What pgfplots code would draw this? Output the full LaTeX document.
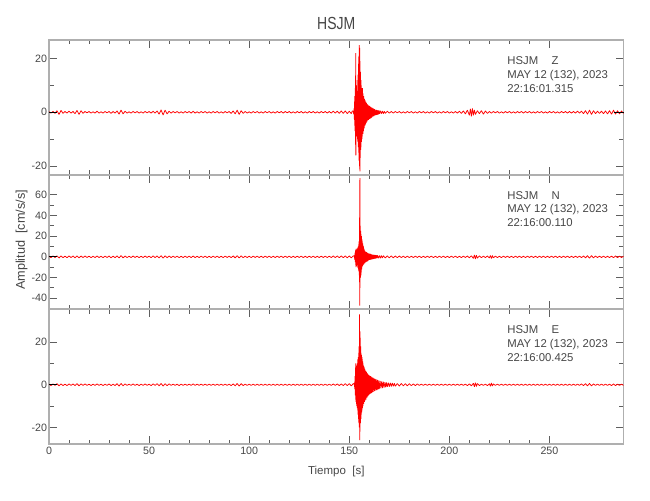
\documentclass[border=0pt]{standalone}
\usepackage{pgfplots}
\pgfplotsset{compat=1.18}
\usepackage{fontspec}
\setmainfont{Liberation Sans}
\newfontfamily\narrowfont{Liberation Sans}[FakeStretch=0.8]
\definecolor{framegray}{RGB}{175,175,175}
\definecolor{tickgray}{RGB}{95,95,95}
\definecolor{txtgray}{RGB}{70,70,70}
\pgfplotsset{
  panel/.style={
    scale only axis, width=344.7pt, height=80.8pt,
    xmin=0, xmax=287,
    axis line style={framegray, line width=1.1pt},
    tick style={tickgray, line width=0.6pt},
    major tick length=4.8pt, minor tick length=2.7pt,
    tick pos=both, tick align=inside,
    xtick={0,50,...,250}, minor x tick num=4,
    minor y tick num=1,
    /pgf/number format/assume math mode=true,
    tick label style={font=\fontsize{6.4}{7}\selectfont, text=txtgray},
    yticklabel style={inner sep=1pt},
    xticklabel style={inner sep=1.5pt},
    clip=false,
    anchor=south west,
  },
  trace/.style={red, line width=0.45pt, line join=bevel},
}
\begin{document}
\begin{tikzpicture}
\useasboundingbox (0,0) rectangle (390pt,300pt);
% ---------------- Panel Z ----------------
\begin{axis}[panel, at={(29.4pt,195.2pt)}, ymin=-23.2, ymax=26.9,
  ytick={-20,0,20}, xticklabels={}]
\addplot[trace] coordinates {
(0,0.2)(1,-0.3)(2,0.3)(3,-0.4)(4,0.6)(5,-0.8)(6,0.7)(7,-0.4)(8,0.3)(9,-0.3)
(10,0.4)(11,-0.3)(12,0.3)(13,-0.5)(14,0.7)(15,-0.8)(16,0.6)(17,-0.4)(18,0.3)(19,-0.2)
(20,0.3)(21,-0.3)(22,0.2)(23,-0.3)(24,0.4)(25,-0.3)(26,0.2)(27,-0.3)(28,0.3)(29,-0.2)
(30,0.3)(31,-0.4)(32,0.3)(33,-0.3)(34,0.5)(35,-0.7)(36,0.8)(37,-0.6)(38,0.4)(39,-0.3)
(40,0.2)(41,-0.3)(42,0.3)(43,-0.2)(44,0.3)(45,-0.3)(46,0.2)(47,-0.3)(48,0.3)(49,-0.2)
(50,0.3)(51,-0.3)(52,0.4)(53,-0.3)(54,0.5)(55,-0.7)(56,0.9)(57,-1.0)(58,0.8)(59,-0.6)
(60,0.4)(61,-0.3)(62,0.3)(63,-0.2)(64,0.3)(65,-0.3)(66,0.2)(67,-0.3)(68,0.3)(69,-0.2)
(70,0.3)(71,-0.3)(72,0.4)(73,-0.3)(74,0.2)(75,-0.3)(76,0.3)(77,-0.2)(78,0.3)(79,-0.3)
(80,0.2)(81,-0.3)(82,0.3)(83,-0.2)(84,0.3)(85,-0.3)(86,0.2)(87,-0.3)(88,0.3)(89,-0.2)
(90,0.3)(91,-0.4)(92,0.5)(93,-0.6)(94,0.8)(95,-0.8)(96,0.6)(97,-0.4)(98,0.3)(99,-0.3)
(100,0.2)(101,-0.3)(102,0.3)(103,-0.2)(104,0.3)(105,-0.3)(106,0.2)(107,-0.3)(108,0.3)(109,-0.2)
(110,0.3)(111,-0.3)(112,0.2)(113,-0.3)(114,0.3)(115,-0.2)(116,0.3)(117,-0.3)(118,0.3)(119,-0.2)
(120,0.3)(121,-0.3)(122,0.2)(123,-0.3)(124,0.3)(125,-0.2)(126,0.3)(127,-0.3)(128,0.2)(129,-0.3)
(130,0.3)(131,-0.2)(132,0.3)(133,-0.3)(134,0.2)(135,-0.3)(136,0.3)(137,-0.2)(138,0.3)(139,-0.3)
(140,0.3)(141,-0.3)(142,0.4)(143,-0.3)(144,0.4)(145,-0.4)(146,0.5)(147,-0.4)(148,0.5)(149,-0.5)
(150,0.4)(151,-0.5)(151.5,0.5)
(152.0,0.4)(152.1,-0.5)(152.2,0.6)(152.3,-0.8)(152.4,1.5)(152.5,-2.5)(152.6,4)(152.7,-5)(152.8,6)(152.9,-7)
(153.0,9)(153.1,-12)(153.2,22)(153.3,-16)(153.4,12)(153.5,-9)(153.6,10)(153.7,-8)(153.8,7)(153.9,-9)
(154.0,8)(154.1,-10)(154.2,12)(154.3,-11)(154.4,14)(154.5,-13)(154.6,18)(154.7,-15)(154.8,21)(154.9,-18)
(155.0,25)(155.1,-20)(155.2,24)(155.3,-22)(155.4,19)(155.5,-17)(155.6,15)(155.7,-14)(155.8,12)(155.9,-13)
(156.0,10)(156.1,-11)(156.2,9)(156.3,-10)(156.4,8)(156.5,-9)(156.6,9)(156.7,-8)(156.8,7)(156.9,-8)
(157.0,6)(157.1,-7)(157.2,6)(157.3,-6)(157.4,5)(157.5,-6)(157.6,5)(157.7,-5)(157.8,4.5)(157.9,-5)
(158.0,4)(158.1,-4.5)(158.2,4)(158.3,-4)(158.4,3.5)(158.5,-4)(158.6,3.5)(158.7,-3.5)(158.8,3)(158.9,-3.5)
(159.0,3)(159.2,-3)(159.4,2.8)(159.6,-2.8)(159.8,2.5)(160.0,-2.5)(160.2,2.3)(160.4,-2.4)(160.6,2.0)(160.8,-2.2)
(161.0,1.8)(161.2,-2.0)(161.4,1.7)(161.6,-1.6)(161.8,1.5)(162.0,-1.5)(162.2,1.3)(162.4,-1.4)(162.6,1.2)(162.8,-1.1)
(163.0,1.0)(163.3,-1.0)(163.6,0.9)(163.9,-0.9)(164.2,0.8)(164.5,-0.8)(164.8,0.7)(165.1,-0.6)(165.5,0.6)(166,-0.5)
(166.5,0.5)(167,-0.5)(167.5,0.4)(168,-0.4)(169,0.4)(170,-0.3)(171,0.3)(172,-0.3)(173,0.3)(174,-0.2)
(175,0.3)(176,-0.3)(177,0.2)(178,-0.3)(179,0.3)(180,-0.2)(181,0.3)(182,-0.3)(183,0.2)(184,-0.3)
(185,0.3)(186,-0.2)(187,0.3)(188,-0.3)(189,0.2)(190,-0.3)(191,0.3)(192,-0.2)(193,0.3)(194,-0.3)
(195,0.2)(196,-0.3)(197,0.3)(198,-0.2)(199,0.3)(200,-0.3)(201,0.2)(202,-0.3)(203,0.3)(204,-0.3)
(205,0.4)(206,-0.4)(207,0.5)(208,-0.6)(209,0.8)(210,-1.1)(210.5,1.3)(211,-1.5)(211.5,1.4)(212,-1.1)
(212.5,0.9)(213,-0.8)(214,0.6)(215,-0.5)(216,0.6)(217,-0.7)(218,0.5)(219,-0.4)(220,0.3)(221,-0.3)
(222,0.3)(223,-0.2)(224,0.3)(225,-0.3)(226,0.2)(227,-0.3)(228,0.3)(229,-0.2)(230,0.3)(231,-0.3)
(232,0.2)(233,-0.3)(234,0.3)(235,-0.2)(236,0.3)(237,-0.3)(238,0.3)(239,-0.2)(240,0.3)(241,-0.3)
(242,0.2)(243,-0.3)(244,0.3)(245,-0.2)(246,0.3)(247,-0.3)(248,0.2)(249,-0.3)(250,0.3)(251,-0.2)
(252,0.3)(253,-0.3)(254,0.2)(255,-0.3)(256,0.3)(257,-0.2)(258,0.3)(259,-0.3)(260,0.3)(261,-0.3)
(262,0.3)(263,-0.3)(264,0.4)(265,-0.3)(266,0.4)(267,-0.5)(268,0.6)(269,-0.7)(270,0.8)(271,-0.8)
(272,0.6)(273,-0.5)(274,0.4)(275,-0.4)(276,0.4)(277,-0.5)(278,0.5)(279,-0.6)(280,0.6)(281,-0.7)
(282,0.8)(283,-0.7)(284,0.6)(285,-0.6)(286,0.5)(287,-0.4)
};
\addplot[black, line width=0.5pt] coordinates {(0,0)(4,0)};
\addplot[black, line width=0.5pt] coordinates {(282,0)(287,0)};
\end{axis}
% ---------------- Panel N ----------------
\begin{axis}[panel, at={(29.4pt,114.4pt)}, ymin=-50.7, ymax=79.4,
  ytick={-40,-20,...,60}, xticklabels={}]
\addplot[trace] coordinates {
(0,0.6)(1,-0.8)(2,0.9)(3,-0.7)(4,1.0)(5,-1.1)(6,0.9)(7,-0.8)(8,0.7)(9,-0.8)
(10,0.9)(11,-0.7)(12,0.8)(13,-0.9)(14,1.0)(15,-1.0)(16,0.8)(17,-0.7)(18,0.8)(19,-0.6)
(20,0.7)(21,-0.8)(22,0.6)(23,-0.7)(24,0.8)(25,-0.7)(26,0.6)(27,-0.8)(28,0.7)(29,-0.6)
(30,0.8)(31,-0.9)(32,0.7)(33,-0.8)(34,1.0)(35,-1.1)(36,1.2)(37,-1.0)(38,0.8)(39,-0.7)
(40,0.6)(41,-0.7)(42,0.8)(43,-0.6)(44,0.7)(45,-0.8)(46,0.6)(47,-0.7)(48,0.8)(49,-0.6)
(50,0.7)(51,-0.8)(52,0.9)(53,-0.7)(54,0.9)(55,-1.0)(56,1.1)(57,-1.2)(58,1.0)(59,-0.9)
(60,0.8)(61,-0.7)(62,0.7)(63,-0.6)(64,0.7)(65,-0.8)(66,0.6)(67,-0.7)(68,0.7)(69,-0.6)
(70,0.7)(71,-0.7)(72,0.8)(73,-0.7)(74,0.6)(75,-0.7)(76,0.7)(77,-0.6)(78,0.7)(79,-0.7)
(80,0.6)(81,-0.7)(82,0.7)(83,-0.6)(84,0.7)(85,-0.7)(86,0.6)(87,-0.7)(88,0.7)(89,-0.6)
(90,0.7)(91,-0.8)(92,0.9)(93,-1.0)(94,1.1)(95,-1.1)(96,1.0)(97,-0.8)(98,0.7)(99,-0.7)
(100,0.6)(101,-0.7)(102,0.7)(103,-0.6)(104,0.7)(105,-0.7)(106,0.6)(107,-0.7)(108,0.7)(109,-0.6)
(110,0.7)(111,-0.7)(112,0.6)(113,-0.7)(114,0.7)(115,-0.6)(116,0.7)(117,-0.7)(118,0.7)(119,-0.6)
(120,0.7)(121,-0.7)(122,0.6)(123,-0.7)(124,0.7)(125,-0.6)(126,0.7)(127,-0.7)(128,0.6)(129,-0.7)
(130,0.7)(131,-0.6)(132,0.7)(133,-0.7)(134,0.6)(135,-0.7)(136,0.7)(137,-0.6)(138,0.7)(139,-0.7)
(140,0.7)(141,-0.7)(142,0.8)(143,-0.7)(144,0.8)(145,-0.8)(146,0.9)(147,-0.8)(148,0.9)(149,-0.9)
(150,0.8)(151,-0.9)(152,0.9)(152.5,1)(152.6,-1.5)(152.7,2)(152.8,-3)(152.9,4)
(153.0,-5)(153.1,6)(153.2,-8)(153.3,7)(153.4,-10)(153.5,8)(153.6,-9)(153.7,7)(153.8,-8)(153.9,6)
(154.0,-7)(154.1,8)(154.2,-10)(154.3,9)(154.4,-11)(154.5,10)(154.6,-12)(154.7,12)(154.8,-14)(154.9,15)
(155.0,-18)(155.1,38)(155.2,-47)(155.3,76)(155.4,-30)(155.5,30)(155.6,-20)(155.7,25)(155.8,-18)(155.9,22)
(156.0,-15)(156.1,20)(156.2,-12)(156.3,17)(156.4,-10)(156.5,15)(156.6,-9)(156.7,13)(156.8,-8)(156.9,11)
(157.0,-8)(157.1,10)(157.2,-7)(157.3,8)(157.4,-7)(157.5,7)(157.6,-6)(157.7,6)(157.8,-6)(157.9,5)
(158.0,-5)(158.2,5)(158.4,-5)(158.6,4.5)(158.8,-4.5)(159.0,4)(159.2,-4)(159.4,3.5)(159.6,-3.5)(159.8,3)
(160.0,-3)(160.2,3)(160.4,-3)(160.6,2.8)(160.8,-2.6)(161.0,2.5)(161.3,-2.4)(161.6,2.2)(161.9,-2.1)(162.2,2.0)
(162.5,-1.9)(162.8,1.8)(163.1,-1.7)(163.4,1.6)(163.7,-1.5)(164.0,1.5)(164.5,-1.4)(165,1.3)(165.5,-1.3)(166,1.2)
(166.5,-1.2)(167,1.1)(168,-1.1)(169,1.0)(170,-1.0)(171,0.9)(172,-0.9)(173,0.8)(174,-0.8)(175,0.8)
(176,-0.7)(177,0.7)(178,-0.8)(179,0.7)(180,-0.7)(181,0.6)(182,-0.7)(183,0.7)(184,-0.6)(185,0.7)
(186,-0.7)(187,0.6)(188,-0.7)(189,0.7)(190,-0.6)(191,0.7)(192,-0.7)(193,0.6)(194,-0.7)(195,0.7)
(196,-0.6)(197,0.7)(198,-0.7)(199,0.6)(200,-0.7)(201,0.7)(202,-0.6)(203,0.7)(204,-0.7)(205,0.6)
(206,-0.7)(207,0.7)(208,-0.6)(209,0.8)(210,-0.9)(211,1.0)(212,-1.5)(212.5,1.8)(213,-2.0)(213.5,1.6)
(214,-1.2)(215,0.9)(216,-0.8)(217,0.7)(218,-0.7)(219,0.8)(220,-1.0)(220.5,1.4)(221,-1.5)(221.5,1.2)
(222,-0.9)(223,0.7)(224,-0.7)(225,0.6)(226,-0.7)(227,0.7)(228,-0.6)(229,0.7)(230,-0.7)(231,0.6)
(232,-0.7)(233,0.7)(234,-0.6)(235,0.7)(236,-0.7)(237,0.6)(238,-0.7)(239,0.7)(240,-0.6)(241,0.7)
(242,-0.7)(243,0.6)(244,-0.7)(245,0.7)(246,-0.6)(247,0.7)(248,-0.7)(249,0.6)(250,-0.7)(251,0.7)
(252,-0.6)(253,0.7)(254,-0.7)(255,0.6)(256,-0.7)(257,0.7)(258,-0.6)(259,0.7)(260,-0.7)(261,0.6)
(262,-0.7)(263,0.7)(264,-0.6)(265,0.7)(266,-0.7)(267,0.8)(268,-0.9)(269,1.1)(270,-1.3)(271,1.2)
(272,-1.0)(273,0.8)(274,-0.7)(275,0.7)(276,-0.6)(277,0.7)(278,-0.7)(279,0.6)(280,-0.7)(281,0.7)
(282,-0.8)(283,0.9)(284,-0.8)(285,0.7)(286,-0.7)(287,0.6)
};
\addplot[black, line width=0.5pt] coordinates {(0,0)(4,0)};
\end{axis}
% ---------------- Panel E ----------------
\begin{axis}[panel, at={(29.4pt,33.6pt)}, ymin=-27.8, ymax=35.4,
  ytick={-20,0,20}]
\addplot[trace] coordinates {
(0,0.3)(1,-0.4)(2,0.4)(3,-0.3)(4,0.5)(5,-0.5)(6,0.4)(7,-0.4)(8,0.3)(9,-0.4)
(10,0.4)(11,-0.3)(12,0.4)(13,-0.4)(14,0.5)(15,-0.5)(16,0.4)(17,-0.3)(18,0.4)(19,-0.3)
(20,0.3)(21,-0.4)(22,0.3)(23,-0.3)(24,0.4)(25,-0.3)(26,0.3)(27,-0.4)(28,0.3)(29,-0.3)
(30,0.4)(31,-0.4)(32,0.3)(33,-0.4)(34,0.5)(35,-0.6)(36,0.6)(37,-0.5)(38,0.4)(39,-0.3)
(40,0.3)(41,-0.3)(42,0.4)(43,-0.3)(44,0.3)(45,-0.4)(46,0.3)(47,-0.3)(48,0.4)(49,-0.3)
(50,0.3)(51,-0.4)(52,0.4)(53,-0.3)(54,0.5)(55,-0.5)(56,0.6)(57,-0.6)(58,0.5)(59,-0.4)
(60,0.4)(61,-0.3)(62,0.3)(63,-0.3)(64,0.3)(65,-0.4)(66,0.3)(67,-0.3)(68,0.3)(69,-0.3)
(70,0.3)(71,-0.3)(72,0.4)(73,-0.3)(74,0.3)(75,-0.3)(76,0.3)(77,-0.3)(78,0.3)(79,-0.3)
(80,0.3)(81,-0.3)(82,0.3)(83,-0.3)(84,0.3)(85,-0.3)(86,0.3)(87,-0.3)(88,0.3)(89,-0.3)
(90,0.3)(91,-0.4)(92,0.4)(93,-0.5)(94,0.6)(95,-0.6)(96,0.5)(97,-0.4)(98,0.3)(99,-0.3)
(100,0.3)(101,-0.3)(102,0.3)(103,-0.3)(104,0.3)(105,-0.3)(106,0.3)(107,-0.3)(108,0.3)(109,-0.3)
(110,0.3)(111,-0.3)(112,0.3)(113,-0.3)(114,0.3)(115,-0.3)(116,0.3)(117,-0.3)(118,0.3)(119,-0.3)
(120,0.3)(121,-0.3)(122,0.3)(123,-0.3)(124,0.3)(125,-0.3)(126,0.3)(127,-0.3)(128,0.3)(129,-0.3)
(130,0.3)(131,-0.3)(132,0.3)(133,-0.3)(134,0.3)(135,-0.3)(136,0.3)(137,-0.3)(138,0.3)(139,-0.3)
(140,0.3)(141,-0.3)(142,0.4)(143,-0.3)(144,0.4)(145,-0.4)(146,0.4)(147,-0.4)(148,0.5)(149,-0.4)
(150,0.5)(151,-0.5)(152,0.5)(152.5,0.6)(152.6,-1)(152.7,1.5)(152.8,-2)(152.9,4)
(153.0,-5)(153.1,8)(153.2,-7)(153.3,10)(153.4,-8)(153.5,7)(153.6,-9)(153.7,8)(153.8,-10)(153.9,9)
(154.0,-11)(154.1,10)(154.2,-12)(154.3,12)(154.4,-14)(154.5,13)(154.6,-16)(154.7,15)(154.8,-18)(154.9,18)
(155.0,-20)(155.1,33)(155.2,-26)(155.3,25)(155.4,-22)(155.5,22)(155.6,-18)(155.7,18)(155.8,-16)(155.9,15)
(156.0,-14)(156.1,14)(156.2,-13)(156.3,13)(156.4,-12)(156.5,12)(156.6,-11)(156.7,11)(156.8,-10)(156.9,10)
(157.0,-9)(157.1,9)(157.2,-9)(157.3,8.5)(157.4,-8)(157.5,8)(157.6,-8)(157.7,7.5)(157.8,-7.5)(157.9,7)
(158.0,-7)(158.2,6.5)(158.4,-7)(158.6,6)(158.8,-6)(159.0,5.5)(159.2,-5.5)(159.4,5)(159.6,-5)(159.8,4.5)
(160.0,-4.6)(160.2,4.2)(160.4,-4.3)(160.6,4)(160.8,-4)(161.0,3.8)(161.2,-3.8)(161.4,3.5)(161.6,-3.5)(161.8,3.3)
(162.0,-3.3)(162.3,3.0)(162.6,-3.0)(162.9,2.8)(163.2,-2.7)(163.5,2.5)(163.8,-2.5)(164.1,2.3)(164.4,-2.2)(164.7,2.0)
(165.0,-2.0)(165.4,1.8)(165.8,-1.7)(166.2,1.6)(166.6,-1.5)(167.0,1.4)(167.4,-1.3)(167.8,1.2)(168.2,-1.2)(168.6,1.1)
(169.0,-1.0)(169.5,1.0)(170,-0.9)(170.5,0.9)(171,-0.8)(171.5,0.8)(172,-0.7)(172.5,0.7)(173,-0.7)(174,0.6)
(175,-0.6)(176,0.6)(177,-0.5)(178,0.5)(179,-0.5)(180,0.5)(181,-0.4)(182,0.4)(183,-0.4)(184,0.4)
(185,-0.3)(186,0.3)(187,-0.3)(188,0.3)(189,-0.3)(190,0.3)(191,-0.3)(192,0.3)(193,-0.3)(194,0.3)
(195,-0.3)(196,0.3)(197,-0.3)(198,0.3)(199,-0.3)(200,0.3)(201,-0.3)(202,0.3)(203,-0.3)(204,0.3)
(205,-0.3)(206,0.3)(207,-0.3)(208,0.3)(209,-0.4)(210,0.4)(211,-0.5)(212,0.7)(212.5,-0.9)(213,1.0)
(213.5,-0.8)(214,0.6)(215,-0.4)(216,0.3)(217,-0.3)(218,0.3)(219,-0.4)(220,0.5)(220.5,-0.7)(221,0.8)
(221.5,-0.6)(222,0.4)(223,-0.3)(224,0.3)(225,-0.3)(226,0.3)(227,-0.3)(228,0.3)(229,-0.3)(230,0.3)
(231,-0.3)(232,0.3)(233,-0.3)(234,0.3)(235,-0.3)(236,0.3)(237,-0.3)(238,0.3)(239,-0.3)(240,0.3)
(241,-0.3)(242,0.3)(243,-0.3)(244,0.3)(245,-0.3)(246,0.3)(247,-0.3)(248,0.3)(249,-0.3)(250,0.3)
(251,-0.3)(252,0.3)(253,-0.3)(254,0.3)(255,-0.3)(256,0.3)(257,-0.3)(258,0.3)(259,-0.3)(260,0.3)
(261,-0.3)(262,0.3)(263,-0.3)(264,0.3)(265,-0.3)(266,0.4)(267,-0.4)(268,0.5)(269,-0.5)(270,0.6)
(271,-0.5)(272,0.4)(273,-0.3)(274,0.3)(275,-0.3)(276,0.3)(277,-0.3)(278,0.3)(279,-0.3)(280,0.3)
(281,-0.4)(282,0.4)(283,-0.4)(284,0.3)(285,-0.3)(286,0.3)(287,-0.3)
};
\addplot[black, line width=0.5pt] coordinates {(0,0)(4,0)};
\end{axis}
% ---------------- Texts ----------------
\node[font=\narrowfont\fontsize{10.5}{12}\selectfont, text=txtgray] at (201.75pt,286pt) {HSJM};
\node[font=\fontsize{6.9}{8}\selectfont, text=txtgray] at (201.75pt,17pt) {Tiempo\ \ [s]};
\node[font=\fontsize{7.6}{9}\selectfont, text=txtgray, rotate=90] at (13pt,156pt) {Amplitud\ \ [cm/s/s]};
\foreach \yy/\cc/\tt in {261/Z/22:16:01.315, 180.4/N/22:16:00.110, 99.8/E/22:16:00.425}{
  \node[font=\fontsize{6.8}{8}\selectfont, text=txtgray, anchor=base west, inner sep=0pt] at (304.2pt,\yy pt) {HSJM\hspace{8pt}\cc};
  \node[font=\fontsize{6.8}{8}\selectfont, text=txtgray, anchor=base west, inner sep=0pt] at (304.2pt,\yy pt-8.2pt) {MAY 12 (132), 2023};
  \node[font=\fontsize{6.8}{8}\selectfont, text=txtgray, anchor=base west, inner sep=0pt] at (304.2pt,\yy pt-16.4pt) {\tt};
}
\end{tikzpicture}
\end{document}
